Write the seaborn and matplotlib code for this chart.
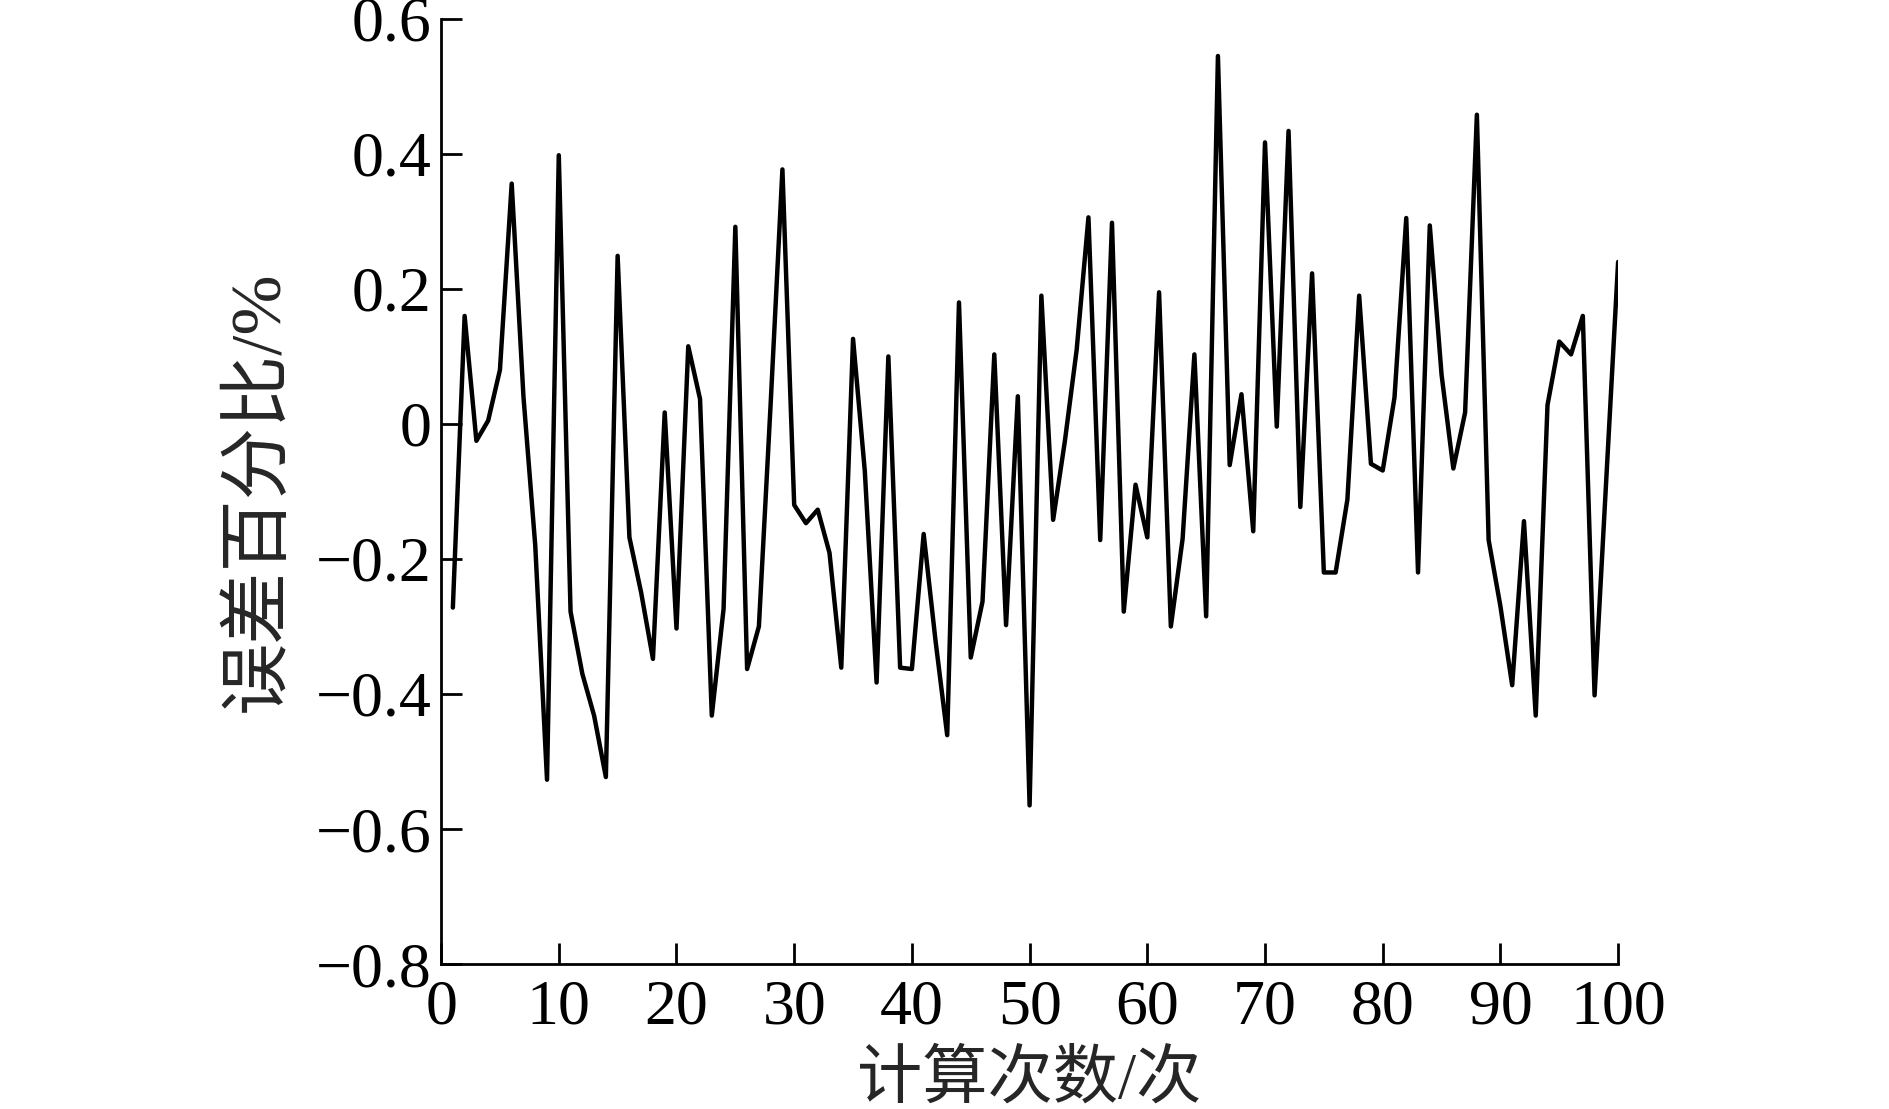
import pandas as pd
import seaborn as sns
import matplotlib.pyplot as plt

# calculation index and error percentage
runs = list(range(1, 101))
error_pct = [
    -0.272, 0.160, -0.025, 0.005, 0.080, 0.356, 0.040, -0.180, -0.527, 0.398,
    -0.278, -0.370, -0.432, -0.523, 0.249, -0.168, -0.250, -0.348, 0.017, -0.303,
    0.115, 0.037, -0.432, -0.274, 0.292, -0.363, -0.300, 0.030, 0.377, -0.120,
    -0.147, -0.127, -0.191, -0.361, 0.126, -0.070, -0.383, 0.100, -0.361, -0.363,
    -0.163, -0.320, -0.461, 0.180, -0.346, -0.263, 0.103, -0.298, 0.041, -0.565,
    0.190, -0.142, -0.025, 0.110, 0.306, -0.172, 0.298, -0.278, -0.090, -0.168,
    0.195, -0.300, -0.170, 0.103, -0.285, 0.545, -0.061, 0.044, -0.159, 0.417,
    -0.004, 0.434, -0.123, 0.223, -0.220, -0.220, -0.112, 0.190, -0.059, -0.069,
    0.039, 0.305, -0.220, 0.294, 0.073, -0.066, 0.017, 0.458, -0.172, -0.270,
    -0.387, -0.144, -0.432, 0.028, 0.122, 0.103, 0.160, -0.402, -0.080, 0.240,
]

x_ticks = [0, 10, 20, 30, 40, 50, 60, 70, 80, 90, 100]
y_ticks = [-0.8, -0.6, -0.4, -0.2, 0, 0.2, 0.4, 0.6]
y_tick_labels = ["\u22120.8", "\u22120.6", "\u22120.4", "\u22120.2", "0", "0.2", "0.4", "0.6"]

x_label = "计算次数/次"
y_label = "误差百分比/%"

sns.set_style("ticks")
# serif for digits and symbols, CJK fallback for the Chinese labels
plt.rcParams["font.family"] = ["Liberation Serif", "Noto Sans CJK SC"]

df = pd.DataFrame({"run": runs, "error": error_pct})

fig = plt.figure(figsize=(18.89, 11.09), dpi=100)
ax = fig.add_axes([0.2335, 0.1307, 0.6231, 0.8523])

sns.lineplot(data=df, x="run", y="error", ax=ax, color="black", linewidth=3.2)

ax.set_xlim(0, 100)
ax.set_ylim(-0.8, 0.6)
ax.set_xticks(x_ticks)
ax.set_yticks(y_ticks)
ax.set_yticklabels(y_tick_labels)
ax.tick_params(direction="in", length=15, width=2, labelsize=46, colors="black")
ax.tick_params(axis="x", pad=11)
ax.tick_params(axis="y", pad=7)

for side in ["top", "right"]:
    ax.spines[side].set_visible(False)
for side in ["left", "bottom"]:
    ax.spines[side].set_linewidth(2)
    ax.spines[side].set_color("black")

ax.set_xlabel(x_label, fontsize=47, labelpad=10)
ax.set_ylabel(y_label, fontsize=52, labelpad=16)

fig.savefig("out.png", dpi=100, facecolor="white")
